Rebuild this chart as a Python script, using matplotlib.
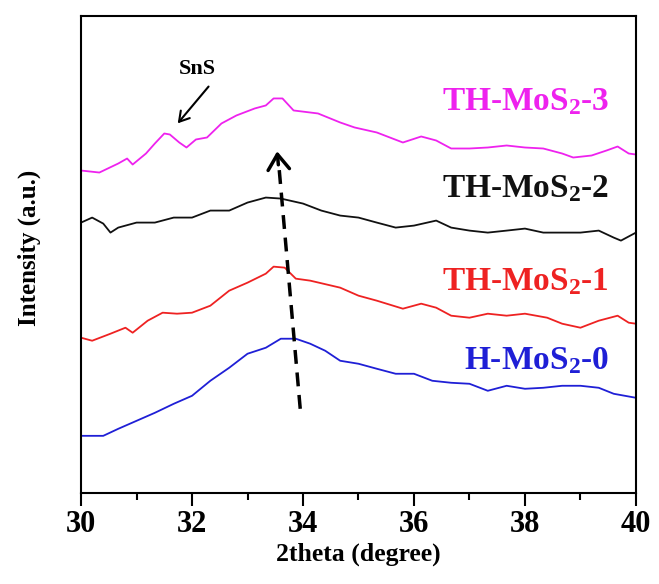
import matplotlib
matplotlib.use('Agg')
import matplotlib.pyplot as plt
from matplotlib.ticker import MultipleLocator

plt.rcParams['font.family'] = 'Liberation Serif'
plt.rcParams['font.weight'] = 'bold'
plt.rcParams['mathtext.fontset'] = 'custom'
plt.rcParams['mathtext.rm'] = 'Liberation Serif:bold'
plt.rcParams['mathtext.bf'] = 'Liberation Serif:bold'
plt.rcParams['mathtext.default'] = 'bf'

# H-MoS2-0 (blue)
x0 = [30.0, 30.4, 30.67, 31.0, 31.33, 31.67, 32.0, 32.33, 32.67, 33.0, 33.33, 33.6,
      33.87, 34.13, 34.4, 34.67, 35.0, 35.33, 35.67, 36.0, 36.33, 36.67, 37.0, 37.33,
      37.67, 38.0, 38.33, 38.67, 39.0, 39.33, 39.6, 40.0]
y0 = [57, 57, 64, 72, 80, 89, 97, 112, 125, 139, 145, 154,
      154, 149, 142, 132, 129, 124, 119, 119, 112, 110, 109, 102,
      107, 104, 105, 107, 107, 105, 99, 95]

# TH-MoS2-1 (red)
x1 = [30.0, 30.2, 30.53, 30.8, 30.93, 31.2, 31.47, 31.73, 32.0, 32.33, 32.67, 33.0,
      33.33, 33.47, 33.67, 33.87, 34.13, 34.67, 35.0, 35.33, 35.8, 36.13, 36.4, 36.67,
      37.0, 37.33, 37.67, 38.0, 38.4, 38.67, 39.0, 39.33, 39.67, 39.87, 40.0]
y1 = [155, 152, 159, 165, 160, 172, 180, 179, 180, 187, 202, 210,
      219, 226, 225, 214, 212, 205, 197, 192, 184, 189, 185, 177,
      175, 179, 177, 179, 175, 169, 165, 172, 177, 170, 169]

# TH-MoS2-2 (black)
x2 = [30.0, 30.2, 30.4, 30.53, 30.67, 31.0, 31.33, 31.67, 32.0, 32.33, 32.67, 33.0,
      33.33, 33.6, 34.0, 34.33, 34.67, 35.0, 35.33, 35.67, 36.0, 36.4, 36.67, 37.0,
      37.33, 37.67, 38.0, 38.33, 38.67, 39.0, 39.33, 39.6, 39.73, 40.0]
y2 = [270, 275, 269, 260, 265, 270, 270, 275, 275, 282, 282, 290,
      295, 294, 289, 282, 277, 275, 270, 265, 267, 272, 265, 262,
      260, 262, 264, 260, 260, 260, 262, 255, 252, 260]

# TH-MoS2-3 (magenta)
x3 = [30.0, 30.33, 30.67, 30.83, 30.93, 31.17, 31.33, 31.5, 31.6, 31.77, 31.9, 32.07,
      32.27, 32.53, 32.8, 33.13, 33.33, 33.47, 33.63, 33.83, 34.27, 34.67, 34.93, 35.33,
      35.8, 36.13, 36.4, 36.67, 37.0, 37.33, 37.67, 38.0, 38.33, 38.67, 38.87, 39.2,
      39.47, 39.67, 39.87, 40.0]
y3 = [322, 320, 329, 334, 328, 339, 349, 359, 358, 350, 345, 353,
      355, 369, 377, 384, 387, 394, 394, 382, 379, 370, 365, 360,
      350, 356, 352, 344, 344, 345, 347, 345, 344, 339, 335, 337,
      342, 346, 339, 338]

labels = ['H-MoS$_2$-0', 'TH-MoS$_2$-1', 'TH-MoS$_2$-2', 'TH-MoS$_2$-3']
colors = ['#1f1fd6', '#ee2222', '#111111', '#ee22ee']
label_y = [124, 202, 295, 382]

fig = plt.figure(figsize=(6.59, 5.84), dpi=100)
ax = fig.add_axes([0.123, 0.156, 0.842, 0.816])

for xs, ys, c in zip([x0, x1, x2, x3], [y0, y1, y2, y3], colors):
    ax.plot(xs, ys, color=c, lw=1.3)

for lab, c, ly in zip(labels, colors, label_y):
    ax.text(39.52, ly, lab, color=c, fontsize=24, fontweight='bold',
            ha='right', va='baseline')

# peak shift arrow
ax.plot([33.95, 33.56], [84, 330], color='black', lw=2.5, ls=(0, (4, 2.5)))
ax.annotate('', xy=(33.53, 344), xytext=(33.56, 325),
            arrowprops=dict(arrowstyle='->, head_length=0.5, head_width=0.35',
                            color='black', lw=2.5, mutation_scale=22))

# SnS marker
ax.text(32.1, 423, 'SnS', fontsize=16, fontweight='bold', ha='center', va='center')
ax.annotate('', xy=(31.71, 367), xytext=(32.33, 408),
            arrowprops=dict(arrowstyle='->, head_length=0.5, head_width=0.3',
                            color='black', lw=1.5, mutation_scale=14))

ax.set_xlim(30, 40)
ax.set_ylim(0, 476)
ax.xaxis.set_major_locator(MultipleLocator(2))
ax.xaxis.set_minor_locator(MultipleLocator(1))
ax.tick_params(axis='x', which='major', direction='out', length=9, width=1.5,
               labelsize=22, pad=3)
ax.tick_params(axis='x', which='minor', direction='out', length=5, width=1.5)
ax.set_yticks([])
for lab in ax.get_xticklabels():
    lab.set_fontweight('bold')
for sp in ax.spines.values():
    sp.set_linewidth(1.5)

ax.set_xlabel('2theta (degree)', fontsize=18.5, fontweight='bold', labelpad=3)
ax.set_ylabel('Intensity (a.u.)', fontsize=18, fontweight='bold')
ax.yaxis.set_label_coords(-0.072, 0.515)

fig.savefig('out.png', dpi=100)
